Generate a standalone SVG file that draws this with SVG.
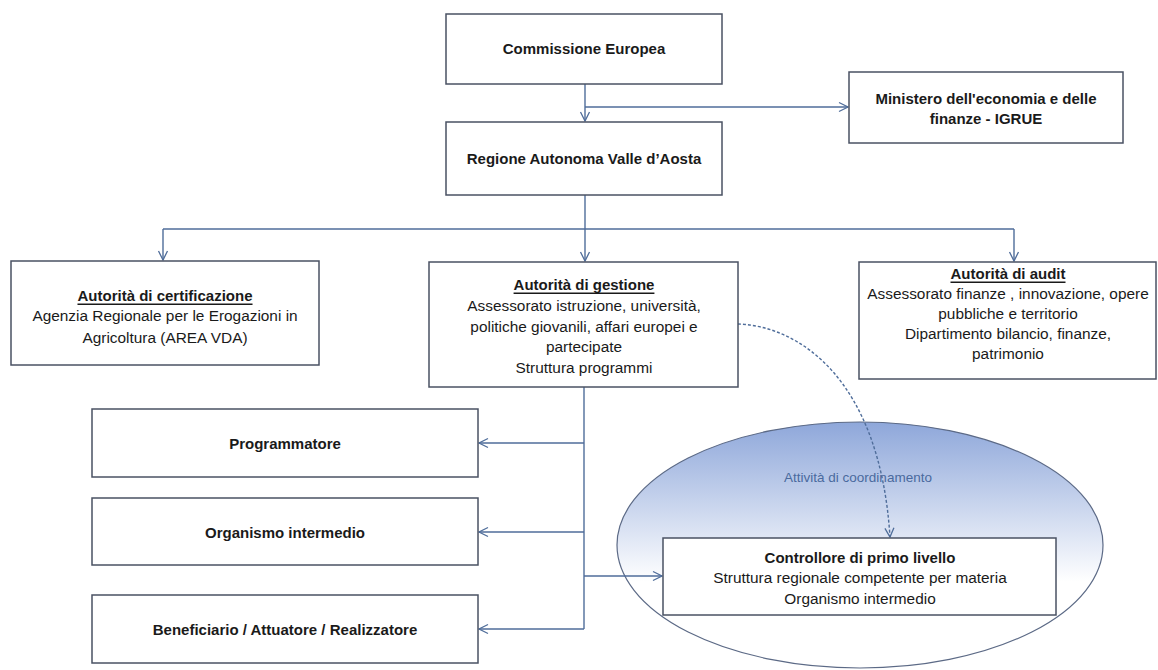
<svg xmlns="http://www.w3.org/2000/svg" width="1158" height="670" viewBox="0 0 1158 670">
<defs>
<linearGradient id="ellGrad" x1="0" y1="0" x2="0" y2="1">
<stop offset="0" stop-color="#8ea7da"/>
<stop offset="0.65" stop-color="#ffffff"/>
<stop offset="1" stop-color="#ffffff"/>
</linearGradient>
<marker id="arr" markerWidth="12" markerHeight="12" refX="10" refY="6" orient="auto" markerUnits="userSpaceOnUse">
<path d="M1,1.5 L10,6 L1,10.5" fill="none" stroke="#4f6d9a" stroke-width="1.3"/>
</marker>
</defs>
<style>
.box{fill:#ffffff;stroke:#4a5263;stroke-width:1.5}
.conn{fill:none;stroke:#4f6d9a;stroke-width:1.4}
.t{font-family:"Liberation Sans",Arial,sans-serif;font-size:15.4px;fill:#1a1a1a;text-anchor:middle;dominant-baseline:central}
.b{font-weight:bold;font-size:15px}
.u{text-decoration:underline}
.coord{font-family:"Liberation Sans",Arial,sans-serif;font-size:13.5px;fill:#4a6a9e;text-anchor:middle;dominant-baseline:central}
</style>
<rect width="1158" height="670" fill="#ffffff"/>

<g id="coordination-area">
<ellipse cx="860" cy="545" rx="243" ry="123" fill="url(#ellGrad)" stroke="#5c6a86" stroke-width="1.2"/>
<text class="coord" x="858" y="477">Attività di coordinamento</text>
</g>

<g id="connectors">
<path class="conn" d="M585,84 V121" marker-end="url(#arr)"/>
<path class="conn" d="M585,107 H848" marker-end="url(#arr)"/>
<path class="conn" d="M585,195 V229"/>
<path class="conn" d="M163,229 H1014"/>
<path class="conn" d="M163,229 V260" marker-end="url(#arr)"/>
<path class="conn" d="M585,229 V261" marker-end="url(#arr)"/>
<path class="conn" d="M1014,229 V261" marker-end="url(#arr)"/>
<path class="conn" d="M584,387 V629"/>
<path class="conn" d="M584,443 H479" marker-end="url(#arr)"/>
<path class="conn" d="M584,532 H479" marker-end="url(#arr)"/>
<path class="conn" d="M584,629 H479" marker-end="url(#arr)"/>
<path class="conn" d="M584,576 H662" marker-end="url(#arr)"/>
<path class="conn" d="M738,324 C800,326 880,380 890,537" stroke-dasharray="3,2" stroke-width="1.1" marker-end="url(#arr)"/>
</g>

<g id="commissione">
<rect class="box" x="446" y="14" width="276" height="70"/>
<text class="t b" x="584" y="48">Commissione Europea</text>
</g>

<g id="ministero">
<rect class="box" x="849" y="72" width="274" height="71"/>
<text class="t b" x="986" y="98">Ministero dell'economia e delle</text>
<text class="t b" x="986" y="118">finanze - IGRUE</text>
</g>

<g id="regione">
<rect class="box" x="446" y="122" width="276" height="73"/>
<text class="t b" x="584" y="158">Regione Autonoma Valle d’Aosta</text>
</g>

<g id="certificazione">
<rect class="box" x="11" y="261" width="308" height="104"/>
<text class="t b u" x="165" y="295">Autorità di certificazione</text>
<text class="t" x="165" y="315">Agenzia Regionale per le Erogazioni in</text>
<text class="t" x="165" y="337">Agricoltura (AREA VDA)</text>
</g>

<g id="gestione">
<rect class="box" x="429" y="262" width="309" height="125"/>
<text class="t b u" x="584" y="284">Autorità di gestione</text>
<text class="t" x="584" y="305">Assessorato istruzione, università,</text>
<text class="t" x="584" y="326">politiche giovanili, affari europei e</text>
<text class="t" x="584" y="346">partecipate</text>
<text class="t" x="584" y="367">Struttura programmi</text>
</g>

<g id="audit">
<rect class="box" x="859" y="262" width="297" height="117"/>
<text class="t b u" x="1008" y="273">Autorità di audit</text>
<text class="t" x="1008" y="293">Assessorato finanze , innovazione, opere</text>
<text class="t" x="1008" y="313">pubbliche e territorio</text>
<text class="t" x="1008" y="333">Dipartimento bilancio, finanze,</text>
<text class="t" x="1008" y="353">patrimonio</text>
</g>

<g id="programmatore">
<rect class="box" x="92" y="409" width="386" height="68"/>
<text class="t b" x="285" y="443">Programmatore</text>
</g>

<g id="organismo-intermedio">
<rect class="box" x="92" y="498" width="386" height="67"/>
<text class="t b" x="285" y="532">Organismo intermedio</text>
</g>

<g id="beneficiario">
<rect class="box" x="92" y="595" width="386" height="68"/>
<text class="t b" x="285" y="629">Beneficiario / Attuatore / Realizzatore</text>
</g>

<g id="controllore">
<rect class="box" x="663" y="538" width="393" height="77"/>
<text class="t b" x="860" y="557">Controllore di primo livello</text>
<text class="t" x="860" y="577">Struttura regionale competente per materia</text>
<text class="t" x="860" y="598">Organismo intermedio</text>
</g>
</svg>
